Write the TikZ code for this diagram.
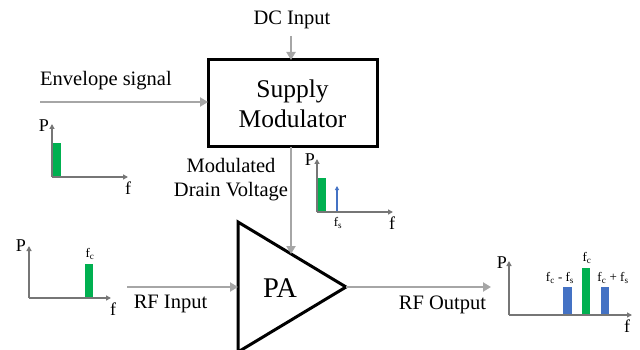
\documentclass[tikz,border=0pt]{standalone}
\usepackage{fontspec}
\setmainfont{Liberation Serif}
\usetikzlibrary{arrows.meta}
\definecolor{flowgray}{HTML}{A6A6A6}
\definecolor{axisgray}{HTML}{767676}
\definecolor{pgreen}{HTML}{00B050}
\definecolor{pblue}{HTML}{4472C4}
\begin{document}
\begin{tikzpicture}[x=1pt,y=-1pt,
  flow/.style={draw=flowgray,line width=2.6pt,-{Triangle[length=8pt,width=9pt]}},
  axis/.style={draw=axisgray,line width=1.6pt,-{Triangle[length=5pt,width=5pt]}},
  lbl/.style={inner sep=0pt,font=\fontsize{20.5}{24}\selectfont},
  axl/.style={inner sep=0pt,font=\fontsize{18}{20}\selectfont},
  sml/.style={inner sep=0pt,font=\fontsize{13}{15}\selectfont},
  gbar/.style={fill=pgreen,draw=none},
  bbar/.style={fill=pblue,draw=none}]
\useasboundingbox (0,0) rectangle (640,350);

% Supply modulator
\draw[line width=3pt] (208,60) rectangle (377,147);
\node[inner sep=0pt,align=center,font=\fontsize{25.5}{30}\selectfont] (sm) at (292.5,104) {Supply\\Modulator};
\coordinate (smtop) at (291,60);
\coordinate (smbot) at (291,147);
\coordinate (smleft) at (208,102);

% PA
\draw[line width=3pt,line join=miter] (238,222) -- (346,287) -- (238,352) -- cycle;
\node[inner sep=0pt,font=\fontsize{28.5}{30}\selectfont] (pa) at (280,288) {PA};
\coordinate (paleft) at (238,287);
\coordinate (paout) at (346,287);
\coordinate (patop) at (291,254);

% DC input
\node[lbl] (dc) at (292,20) {DC Input};
\coordinate (dcs) at (291,36);
\draw[flow] (dcs) -- (smtop);

% Envelope
\node[lbl,anchor=west] (env) at (40,81) {Envelope signal};
\coordinate (envs) at (40,102);
\draw[flow] (envs) -- (smleft);

% Modulated drain voltage
\draw[flow] (smbot) -- (patop);
\node[lbl,align=center] (mdv) at (231,180) {Modulated\\Drain Voltage};

% RF input / output
\coordinate (rfs) at (127,287);
\draw[flow] (rfs) -- (paleft);
\node[lbl] (rfin) at (170.5,304) {RF Input};
\coordinate (rfe) at (491,287);
\draw[flow] (paout) -- (rfe);
\node[lbl] (rfout) at (442.5,305) {RF Output};

% Plot 1 (envelope)
\coordinate (o1) at (52,177);
\coordinate (y1) at (52,124);
\coordinate (x1) at (128,177);
\fill[gbar] (53,143) rectangle (61,176.5);
\draw[axis] (o1) -- (y1);
\draw[axis] (o1) -- (x1);
\node[axl] (p1) at (44,126) {P};
\node[axl] (f1) at (128,188) {f};

% Plot 2 (drain)
\coordinate (o2) at (317,212);
\coordinate (y2) at (317,159);
\coordinate (x2) at (393,212);
\fill[gbar] (318,178) rectangle (326,211.5);
\coordinate (bs) at (337,212);
\coordinate (be) at (337,186);
\draw[draw=pblue,line width=1.1pt,-{Triangle[length=4pt,width=4pt]}] (bs) -- (be);
\draw[axis] (o2) -- (y2);
\draw[axis] (o2) -- (x2);
\node[axl] (p2) at (310,160) {P};
\node[axl] (f2) at (392,223) {f};
\node[sml] (fs2) at (338,223) {f\textsubscript{s}};

% Plot 3 (RF input)
\coordinate (o3) at (29,298);
\coordinate (y3) at (29,246);
\coordinate (x3) at (111,298);
\fill[gbar] (85,264) rectangle (93,297.5);
\draw[axis] (o3) -- (y3);
\draw[axis] (o3) -- (x3);
\node[axl] (p3) at (21,246) {P};
\node[axl] (f3) at (113,309) {f};
\node[sml] (fc3) at (90,254) {f\textsubscript{c}};

% Plot 4 (RF output)
\coordinate (o4) at (509,315);
\coordinate (y4) at (509,261);
\coordinate (x4) at (632,315);
\fill[bbar] (563,287) rectangle (572,314.5);
\fill[gbar] (582,268) rectangle (590,314.5);
\fill[bbar] (601,287) rectangle (609,314.5);
\draw[axis] (o4) -- (y4);
\draw[axis] (o4) -- (x4);
\node[axl] (p4) at (502,263) {P};
\node[axl] (f4) at (627,326) {f};
\node[sml] (fc4) at (587,258) {f\textsubscript{c}};
\node[sml] (fm4) at (560,278) {f\textsubscript{c} - f\textsubscript{s}};
\node[sml] (fp4) at (613,278) {f\textsubscript{c} + f\textsubscript{s}};
\end{tikzpicture}
\end{document}
